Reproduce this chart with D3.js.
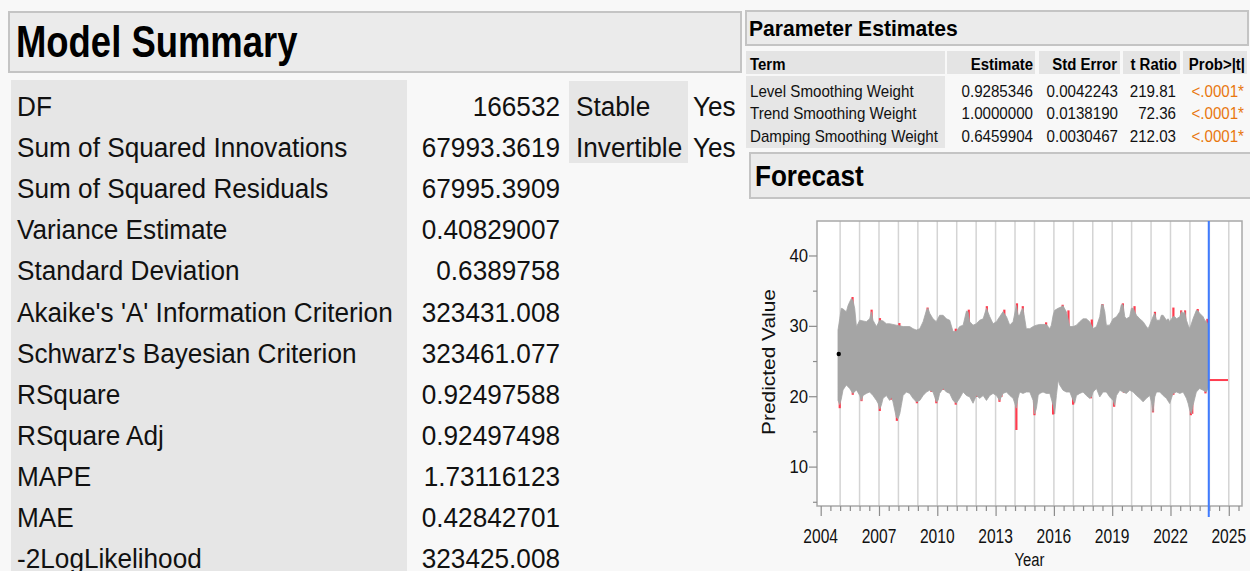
<!DOCTYPE html>
<html>
<head>
<meta charset="utf-8">
<script src="https://cdn.jsdelivr.net/npm/d3@7"></script>
<style>
  html, body { margin: 0; padding: 0; background: #f8f8f8; }
  svg { display: block; font-family: "Liberation Sans", Arial, Helvetica, sans-serif; }
</style>
</head>
<body>
<svg id="report" width="1250" height="571"></svg>
<script>
// ---- Model summary ----
const summaryLabels = ["DF", "Sum of Squared Innovations", "Sum of Squared Residuals", "Variance Estimate",
  "Standard Deviation", "Akaike's 'A' Information Criterion", "Schwarz's Bayesian Criterion", "RSquare",
  "RSquare Adj", "MAPE", "MAE", "-2LogLikelihood"];
const summaryValues = ["166532", "67993.3619", "67995.3909", "0.40829007", "0.6389758", "323431.008",
  "323461.077", "0.92497588", "0.92497498", "1.73116123", "0.42842701", "323425.008"];
const stabilityLabels = ["Stable", "Invertible"];
const stabilityValues = ["Yes", "Yes"];

// ---- Parameter estimates ----
const paramHeaders = ["Term", "Estimate", "Std Error", "t Ratio", "Prob>|t|"];
const paramTerms = ["Level Smoothing Weight", "Trend Smoothing Weight", "Damping Smoothing Weight"];
const paramEstimates = ["0.9285346", "1.0000000", "0.6459904"];
const paramStdErrors = ["0.0042243", "0.0138190", "0.0030467"];
const paramTRatios = ["219.81", "72.36", "212.03"];
const paramProbs = ["<.0001*", "<.0001*", "<.0001*"];

// ---- Forecast plot ----
const yearTicks = [2004, 2007, 2010, 2013, 2016, 2019, 2022, 2025];
const valueTicks = [10, 20, 30, 40];
const valueMinorTicks = [5, 15, 25, 35];
const historyEnd = 2023.97;
const firstObservation = [2004.93, 26.0];
const forecastLine = [[2023.97, 22.3], [2024.96, 22.3]];

// upper edge of the one-step-ahead predicted values
const fitUpper = [
  [2004.89, 29.4], [2004.98, 31.0], [2005.06, 32.5], [2005.15, 32.4], [2005.23, 32.2], [2005.32, 32.0],
  [2005.41, 32.9], [2005.49, 33.4], [2005.58, 33.9], [2005.66, 33.6], [2005.75, 32.5], [2005.84, 29.9],
  [2005.92, 30.3], [2006.01, 30.8], [2006.18, 30.7], [2006.35, 30.6], [2006.52, 31.0], [2006.61, 32.0],
  [2006.69, 30.8], [2006.87, 29.9], [2007.04, 30.8], [2007.21, 30.7], [2007.38, 30.3], [2007.55, 30.3],
  [2007.72, 30.2], [2007.89, 30.1], [2008.07, 30.0], [2008.24, 29.9], [2008.58, 29.9], [2008.75, 29.6],
  [2008.92, 29.4], [2009.10, 29.6], [2009.27, 30.6], [2009.44, 32.2], [2009.52, 32.5], [2009.61, 31.8],
  [2009.78, 31.0], [2009.95, 30.6], [2010.12, 31.5], [2010.30, 31.5], [2010.47, 31.0], [2010.64, 30.8],
  [2010.81, 29.2], [2010.98, 29.2], [2011.15, 29.9], [2011.33, 30.1], [2011.50, 32.1], [2011.58, 32.0],
  [2011.67, 30.6], [2011.84, 30.1], [2012.01, 30.3], [2012.18, 30.8], [2012.36, 31.0], [2012.53, 32.5],
  [2012.70, 31.3], [2012.87, 30.3], [2013.04, 30.6], [2013.21, 31.3], [2013.38, 32.0], [2013.56, 31.3],
  [2013.73, 30.1], [2013.90, 30.6], [2014.07, 32.9], [2014.16, 31.5], [2014.24, 31.5], [2014.33, 32.2],
  [2014.41, 32.5], [2014.50, 31.0], [2014.58, 29.6], [2014.76, 29.6], [2014.93, 29.9], [2015.10, 30.1],
  [2015.27, 30.2], [2015.61, 30.2], [2015.79, 29.6], [2015.87, 30.1], [2015.96, 31.5], [2016.04, 32.2],
  [2016.22, 32.5], [2016.39, 32.7], [2016.47, 32.85], [2016.64, 32.0], [2016.82, 29.9], [2016.99, 29.9],
  [2017.16, 30.1], [2017.33, 30.6], [2017.50, 31.0], [2017.67, 31.0], [2017.84, 30.6], [2018.02, 29.6],
  [2018.19, 29.9], [2018.36, 31.3], [2018.45, 33.0], [2018.53, 33.0], [2018.62, 32.0], [2018.70, 30.1],
  [2018.87, 30.1], [2019.05, 31.0], [2019.22, 31.3], [2019.39, 32.0], [2019.47, 33.0], [2019.56, 33.0],
  [2019.65, 31.3], [2019.73, 31.0], [2019.90, 31.3], [2019.99, 32.5], [2020.08, 32.5], [2020.25, 31.5],
  [2020.42, 31.0], [2020.59, 30.6], [2020.76, 29.9], [2020.85, 29.6], [2020.93, 30.1], [2021.10, 31.3],
  [2021.19, 31.8], [2021.28, 30.8], [2021.45, 30.8], [2021.53, 31.5], [2021.62, 31.5], [2021.79, 30.8],
  [2021.88, 31.0], [2021.96, 30.6], [2022.13, 31.3], [2022.22, 31.3], [2022.31, 31.0], [2022.48, 31.3],
  [2022.56, 32.0], [2022.65, 31.8], [2022.73, 32.0], [2022.82, 30.8], [2022.91, 30.1], [2022.99, 29.6],
  [2023.16, 31.0], [2023.33, 32.2], [2023.42, 32.1], [2023.50, 31.8], [2023.68, 31.3], [2023.76, 30.8],
  [2023.85, 30.6], [2023.93, 30.2], [2023.97, 30.2]
];

// lower edge of the one-step-ahead predicted values
const fitLower = [
  [2004.89, 19.4], [2004.98, 18.8], [2005.06, 19.6], [2005.15, 20.9], [2005.32, 21.6], [2005.49, 21.1],
  [2005.66, 20.4], [2005.84, 20.9], [2006.01, 20.1], [2006.09, 19.4], [2006.18, 20.1], [2006.35, 20.4],
  [2006.52, 20.6], [2006.69, 20.1], [2006.87, 19.4], [2006.95, 19.0], [2007.04, 18.2], [2007.12, 18.7],
  [2007.21, 19.7], [2007.38, 20.1], [2007.55, 19.4], [2007.64, 19.9], [2007.72, 19.2], [2007.89, 17.0],
  [2007.98, 16.8], [2008.07, 17.5], [2008.15, 18.7], [2008.24, 20.1], [2008.41, 20.6], [2008.58, 20.4],
  [2008.75, 19.7], [2008.92, 19.2], [2009.10, 19.4], [2009.27, 20.1], [2009.44, 20.6], [2009.61, 20.85],
  [2009.78, 20.6], [2009.95, 19.2], [2010.04, 19.4], [2010.12, 20.4], [2010.30, 21.1], [2010.47, 20.6],
  [2010.64, 20.4], [2010.81, 19.4], [2010.98, 19.0], [2011.15, 19.7], [2011.33, 20.6], [2011.50, 20.1],
  [2011.67, 19.9], [2011.84, 19.0], [2012.01, 20.1], [2012.18, 19.7], [2012.36, 20.1], [2012.53, 19.4],
  [2012.70, 20.1], [2012.87, 20.4], [2013.04, 20.1], [2013.21, 19.4], [2013.38, 20.4], [2013.56, 20.6],
  [2013.73, 20.1], [2013.90, 19.7], [2013.99, 18.96], [2014.07, 18.3], [2014.15, 19.7], [2014.24, 20.6],
  [2014.41, 20.4], [2014.58, 20.6], [2014.76, 20.6], [2014.93, 19.4], [2015.01, 17.5], [2015.10, 18.25],
  [2015.19, 20.1], [2015.27, 20.4], [2015.44, 20.6], [2015.61, 20.4], [2015.79, 20.4], [2015.96, 18.7],
  [2016.04, 17.5], [2016.13, 20.1], [2016.22, 22.3], [2016.30, 21.6], [2016.47, 20.85], [2016.64, 20.6],
  [2016.82, 20.6], [2016.99, 19.4], [2017.07, 19.0], [2017.16, 20.1], [2017.33, 20.4], [2017.50, 20.6],
  [2017.67, 20.1], [2017.84, 19.7], [2017.93, 19.9], [2018.02, 20.6], [2018.19, 21.1], [2018.36, 19.9],
  [2018.53, 20.6], [2018.70, 20.6], [2018.87, 19.9], [2019.05, 19.4], [2019.13, 18.7], [2019.22, 20.1],
  [2019.39, 20.85], [2019.56, 20.6], [2019.73, 20.4], [2019.90, 20.85], [2020.08, 20.6], [2020.25, 20.1],
  [2020.42, 19.7], [2020.59, 19.2], [2020.76, 19.7], [2020.93, 20.1], [2021.02, 19.2], [2021.10, 17.8],
  [2021.19, 19.9], [2021.28, 20.6], [2021.45, 20.6], [2021.62, 20.1], [2021.79, 19.7], [2021.96, 18.96],
  [2022.13, 20.4], [2022.31, 20.6], [2022.48, 20.4], [2022.65, 20.6], [2022.82, 19.7], [2022.91, 18.96],
  [2022.99, 18.0], [2023.08, 17.5], [2023.16, 18.7], [2023.33, 20.6], [2023.50, 21.1], [2023.68, 20.85],
  [2023.85, 20.6], [2023.93, 21.1], [2023.97, 21.1]
];

// observed extremes that fall outside the predicted band
const actualHighs = [
  [2005.64, 34.1], [2006.62, 32.3], [2007.05, 31.1], [2008.05, 30.4], [2009.50, 32.6], [2010.95, 29.6],
  [2011.62, 32.3], [2012.55, 32.8], [2013.45, 32.3], [2014.10, 33.2], [2014.40, 32.8], [2015.60, 30.5],
  [2016.45, 33.0], [2016.75, 32.2], [2017.10, 29.9], [2017.95, 30.9], [2018.50, 33.1], [2019.55, 33.2],
  [2020.15, 32.8], [2021.20, 32.0], [2022.15, 32.6], [2022.55, 32.2], [2022.75, 32.2], [2023.40, 32.4],
  [2023.90, 31.0]
];
const actualLows = [
  [2004.98, 18.3], [2005.65, 20.2], [2006.10, 19.3], [2007.04, 17.9], [2007.62, 19.5], [2007.92, 16.5],
  [2008.95, 19.0], [2009.70, 20.6], [2009.95, 19.0], [2010.30, 20.9], [2010.95, 18.8], [2012.05, 19.9],
  [2013.20, 19.2], [2013.30, 19.9], [2014.07, 15.2], [2015.00, 17.3], [2015.96, 17.4], [2016.99, 18.8],
  [2017.90, 19.7], [2019.10, 18.5], [2019.60, 20.5], [2020.30, 20.6], [2021.10, 17.7], [2021.90, 19.5],
  [2022.15, 20.2], [2023.05, 17.3], [2023.12, 17.5], [2023.80, 20.4]
];

const svg = d3.select("#report");

// text helper: narrow type is obtained with a horizontal scale about the anchor point
function label(g, x, y, s, o = {}) {
  const sx = o.squeeze || 1;
  const rot = o.rotate ? ` rotate(${o.rotate})` : "";
  return g.append("text")
    .attr("transform", `translate(${x},${y})${rot} scale(${sx},1)`)
    .attr("font-size", o.size || 16)
    .attr("font-weight", o.bold ? "bold" : "normal")
    .attr("fill", o.color || "#111")
    .attr("text-anchor", o.anchor || "start")
    .text(s);
}

function outlineBox(g, x, y, w, h) {
  g.append("rect").attr("x", x).attr("y", y).attr("width", w).attr("height", h)
    .attr("fill", "#ebebeb").attr("stroke", "#c4c4c4").attr("stroke-width", 2);
}

svg.append("rect").attr("width", 1250).attr("height", 571).attr("fill", "#f8f8f8");

// ================= Model Summary =================
const ms = svg.append("g");
outlineBox(ms, 9, 12, 732, 60);
label(ms, 16, 57, "Model Summary", { size: 45, bold: true, color: "#000", squeeze: 0.81 });

ms.append("rect").attr("x", 11).attr("y", 80).attr("width", 396).attr("height", 500).attr("fill", "#e6e6e6");
ms.append("rect").attr("x", 569).attr("y", 81).attr("width", 119).attr("height", 82).attr("fill", "#e6e6e6");

const rowStep = 41.1, firstBase = 116;
const body = { size: 28, squeeze: 0.935 };
summaryLabels.forEach((s, i) => label(ms, 17, firstBase + i * rowStep, s, body));
summaryValues.forEach((s, i) => label(ms, 560, firstBase + i * rowStep, s, { ...body, anchor: "end" }));
stabilityLabels.forEach((s, i) => label(ms, 576, firstBase + i * rowStep, s, body));
stabilityValues.forEach((s, i) => label(ms, 693, firstBase + i * rowStep, s, body));

// ================= Parameter Estimates =================
const pe = svg.append("g");
outlineBox(pe, 746, 11, 502, 34);
label(pe, 749, 36, "Parameter Estimates", { size: 22, bold: true, color: "#000", squeeze: 0.96 });

const colCells = [[746, 945], [947, 1035], [1039, 1120], [1123, 1180], [1183, 1247]];
colCells.forEach(([a, b]) => pe.append("rect").attr("x", a).attr("y", 51).attr("width", b - a).attr("height", 23).attr("fill", "#e4e4e4"));
pe.append("rect").attr("x", 746).attr("y", 76).attr("width", 199).attr("height", 72).attr("fill", "#e6e6e6");

const colRight = [null, 1033, 1117, 1177, 1245];
const head = { size: 17, bold: true, color: "#000", squeeze: 0.88 };
paramHeaders.forEach((h, i) => {
  if (i === 0) label(pe, 750, 70, h, head);
  else label(pe, colRight[i], 70, h, { ...head, anchor: "end" });
});
const rowBase = [97, 119.3, 141.6];
const valRight = [1033, 1118, 1176, 1244];
const cell = { size: 17, squeeze: 0.89 };
paramTerms.forEach((t, i) => {
  label(pe, 750, rowBase[i], t, cell);
  label(pe, valRight[0], rowBase[i], paramEstimates[i], { ...cell, anchor: "end" });
  label(pe, valRight[1], rowBase[i], paramStdErrors[i], { ...cell, anchor: "end" });
  label(pe, valRight[2], rowBase[i], paramTRatios[i], { ...cell, anchor: "end" });
  label(pe, valRight[3], rowBase[i], paramProbs[i], { ...cell, anchor: "end", color: "#e8770e" });
});

// ================= Forecast =================
const fc = svg.append("g");
outlineBox(fc, 750, 153, 510, 45);
label(fc, 755, 186, "Forecast", { size: 29, bold: true, color: "#000", squeeze: 0.9 });

const plot = { left: 817, right: 1242, top: 221, bottom: 506 };
const x = d3.scaleLinear().domain([2003.81, 2025.68]).range([plot.left, plot.right]);
const y = d3.scaleLinear().domain([4.4, 44.9]).range([plot.bottom, plot.top]);

fc.append("rect").attr("x", plot.left).attr("y", plot.top)
  .attr("width", plot.right - plot.left).attr("height", plot.bottom - plot.top).attr("fill", "#fff");

// yearly vertical grid
const gridYears = d3.range(2005, 2026);
fc.append("g").selectAll("line").data(gridYears).join("line")
  .attr("x1", d => x(d)).attr("x2", d => x(d))
  .attr("y1", plot.top).attr("y2", plot.bottom)
  .attr("stroke", "#d4d4d4").attr("stroke-width", 1.5);

fc.append("clipPath").attr("id", "plotclip").append("rect")
  .attr("x", plot.left).attr("y", plot.top).attr("width", plot.right - plot.left).attr("height", plot.bottom - plot.top);
const marks = fc.append("g").attr("clip-path", "url(#plotclip)");

// observed extremes: drawn from the series centre out to the value, the band then covers the inner part
const tips = actualHighs.concat(actualLows);
marks.append("g").selectAll("line").data(tips).join("line")
  .attr("x1", d => x(d[0])).attr("x2", d => x(d[0]))
  .attr("y1", y(25)).attr("y2", d => y(d[1]))
  .attr("stroke", "#ff3d4f").attr("stroke-width", 2.2);

// predicted band
const band = fitUpper.concat(fitLower.slice().reverse());
marks.append("path")
  .attr("d", d3.line().x(d => x(d[0])).y(d => y(d[1]))(band) + "Z")
  .attr("fill", "#a5a5a5").attr("stroke", "#a5a5a5").attr("stroke-width", 0.8);

// forecast
marks.append("path")
  .attr("d", d3.line().x(d => x(d[0])).y(d => y(d[1]))(forecastLine))
  .attr("stroke", "#ff3d4f").attr("stroke-width", 2).attr("fill", "none");

marks.append("circle").attr("cx", x(firstObservation[0])).attr("cy", y(firstObservation[1]))
  .attr("r", 2.2).attr("fill", "#000");

// frame
fc.append("rect").attr("x", plot.left).attr("y", plot.top)
  .attr("width", plot.right - plot.left).attr("height", plot.bottom - plot.top)
  .attr("fill", "none").attr("stroke", "#a8a8a8").attr("stroke-width", 1.5);

// Y axis
const yAxis = fc.append("g").attr("transform", `translate(${plot.left},0)`)
  .call(d3.axisLeft(y).tickValues(valueTicks).tickSize(8).tickFormat(""));
const yMinor = fc.append("g").attr("transform", `translate(${plot.left},0)`)
  .call(d3.axisLeft(y).tickValues(valueMinorTicks).tickSize(4).tickFormat(""));
[yAxis, yMinor].forEach(a => { a.select(".domain").remove(); a.selectAll("line").attr("stroke", "#8c8c8c").attr("stroke-width", 1.2); });
valueTicks.forEach(v => label(fc, plot.left - 9, y(v) + 6.5, d3.format("d")(v), { size: 19, anchor: "end", squeeze: 0.88 }));

// X axis
const xAxis = fc.append("g").attr("transform", `translate(0,${plot.bottom})`)
  .call(d3.axisBottom(x).tickValues(yearTicks).tickSize(10).tickFormat(""));
const halfYears = d3.range(2004, 2025.6, 0.5).filter(v => !yearTicks.includes(v));
const xMinor = fc.append("g").attr("transform", `translate(0,${plot.bottom})`)
  .call(d3.axisBottom(x).tickValues(halfYears).tickSize(5).tickFormat(""));
[xAxis, xMinor].forEach(a => { a.select(".domain").remove(); a.selectAll("line").attr("stroke", "#8c8c8c").attr("stroke-width", 1.2); });
yearTicks.forEach(v => label(fc, x(v), 543, d3.format("d")(v), { size: 20, anchor: "middle", squeeze: 0.78 }));

// end of history marker
fc.append("line").attr("x1", x(historyEnd)).attr("x2", x(historyEnd))
  .attr("y1", plot.top).attr("y2", plot.bottom + 11)
  .attr("stroke", "#3f7bff").attr("stroke-width", 2);

label(fc, (plot.left + plot.right) / 2, 566, "Year", { size: 19, anchor: "middle", squeeze: 0.78 });
label(fc, 775, 362, "Predicted Value", { size: 18, anchor: "middle", rotate: -90, squeeze: 1.16 });
</script>
</body>
</html>
